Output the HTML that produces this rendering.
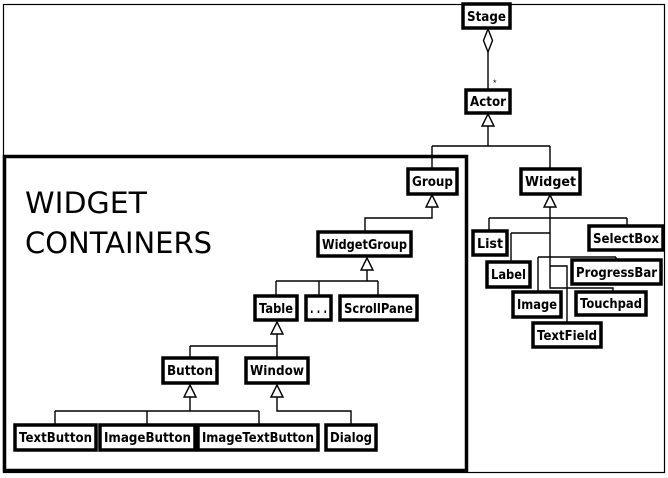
<!DOCTYPE html>
<html><head><meta charset="utf-8"><style>
html,body{margin:0;padding:0;background:#fff;}
svg{display:block;}
.b{fill:#fff;stroke:#000;stroke-width:3.5;}
.t{font-family:"DejaVu Sans","Liberation Sans",sans-serif;font-weight:bold;font-size:13px;fill:#000;}
.l{fill:none;stroke:#000;stroke-width:1.4;}
.tri{fill:#fff;stroke:#000;stroke-width:1.4;}
</style></head><body>
<svg width="668" height="478" viewBox="0 0 668 478" xmlns="http://www.w3.org/2000/svg">
<rect x="3.5" y="4.5" width="661" height="468" fill="#fff" stroke="#000" stroke-width="1.2"/>
<rect x="4.5" y="156.5" width="462" height="314" fill="none" stroke="#000" stroke-width="3.5"/>
<text x="25" y="213" font-family="DejaVu Sans,Liberation Sans,sans-serif" font-size="29" textLength="122" lengthAdjust="spacingAndGlyphs" fill="#000">WIDGET</text>
<text x="25" y="253" font-family="DejaVu Sans,Liberation Sans,sans-serif" font-size="29" textLength="187" lengthAdjust="spacingAndGlyphs" fill="#000">CONTAINERS</text>

<path class="l" d="M488 52 V90"/>
<polygon class="tri" points="488,29 492.5,40.5 488,52 483.5,40.5"/>
<text x="493" y="86" font-size="9" font-family="Liberation Sans,sans-serif">*</text>
<path class="l" d="M488 126 V146 M432 146 H550 M432 146 V169 M550 146 V169"/>
<polygon class="tri" points="488,114 494,126 482,126"/>
<path class="l" d="M550 207 V288 H613 V292 M489 218 H627 M489 218 V231 M627 218 V226 M511 233 H550 M511 233 V262 M538 257 H616 M538 257 V292 M616 257 V260 M550 266 H567 V323"/>
<polygon class="tri" points="550,195 556,207 544,207"/>
<path class="l" d="M432 207 V218 H365 V232"/>
<polygon class="tri" points="432,195 438,207 426,207"/>
<path class="l" d="M367 270 V281 M276 281 H378 M276 281 V296 M319 281 V296 M378 281 V296"/>
<polygon class="tri" points="367,258 373,270 361,270"/>
<path class="l" d="M277 334 V346 M190 346 H277 M190 346 V358 M277 346 V358"/>
<polygon class="tri" points="277,322 283,334 271,334"/>
<path class="l" d="M190 397 V411 M55 411 H259 M55 411 V425 M147 411 V425 M259 411 V425"/>
<polygon class="tri" points="190,385 196,397 184,397"/>
<path class="l" d="M277 397 V411 H351 V425"/>
<polygon class="tri" points="277,385 283,397 271,397"/>

<rect class="b" x="463" y="4" width="47" height="24"/><text class="t" x="467" y="21" textLength="39" lengthAdjust="spacingAndGlyphs">Stage</text>
<rect class="b" x="466" y="90" width="44" height="23"/><text class="t" x="470" y="106" textLength="36" lengthAdjust="spacingAndGlyphs">Actor</text>
<rect class="b" x="408" y="169" width="49" height="25"/><text class="t" x="412" y="186" textLength="41" lengthAdjust="spacingAndGlyphs">Group</text>
<rect class="b" x="521" y="169" width="59" height="25"/><text class="t" x="525" y="186" textLength="51" lengthAdjust="spacingAndGlyphs">Widget</text>
<rect class="b" x="318" y="232" width="93" height="24"/><text class="t" x="322" y="249" textLength="85" lengthAdjust="spacingAndGlyphs">WidgetGroup</text>
<rect class="b" x="255" y="296" width="42" height="24"/><text class="t" x="259" y="313" textLength="34" lengthAdjust="spacingAndGlyphs">Table</text>
<rect class="b" x="306" y="296" width="25" height="24"/><text class="t" x="310" y="313" textLength="17" lengthAdjust="spacingAndGlyphs">. . .</text>
<rect class="b" x="340" y="296" width="77" height="24"/><text class="t" x="344" y="313" textLength="69" lengthAdjust="spacingAndGlyphs">ScrollPane</text>
<rect class="b" x="163" y="358" width="54" height="25"/><text class="t" x="167" y="375" textLength="46" lengthAdjust="spacingAndGlyphs">Button</text>
<rect class="b" x="246" y="358" width="62" height="25"/><text class="t" x="250" y="375" textLength="54" lengthAdjust="spacingAndGlyphs">Window</text>
<rect class="b" x="15" y="425" width="81" height="25"/><text class="t" x="19" y="442" textLength="73" lengthAdjust="spacingAndGlyphs">TextButton</text>
<rect class="b" x="100" y="425" width="95" height="25"/><text class="t" x="104" y="442" textLength="87" lengthAdjust="spacingAndGlyphs">ImageButton</text>
<rect class="b" x="198" y="425" width="120" height="25"/><text class="t" x="202" y="442" textLength="112" lengthAdjust="spacingAndGlyphs">ImageTextButton</text>
<rect class="b" x="326" y="425" width="50" height="25"/><text class="t" x="330" y="442" textLength="42" lengthAdjust="spacingAndGlyphs">Dialog</text>
<rect class="b" x="473" y="231" width="34" height="24"/><text class="t" x="477" y="248" textLength="26" lengthAdjust="spacingAndGlyphs">List</text>
<rect class="b" x="589" y="226" width="74" height="24"/><text class="t" x="593" y="243" textLength="66" lengthAdjust="spacingAndGlyphs">SelectBox</text>
<rect class="b" x="487" y="262" width="43" height="25"/><text class="t" x="491" y="279" textLength="35" lengthAdjust="spacingAndGlyphs">Label</text>
<rect class="b" x="572" y="260" width="89" height="24"/><text class="t" x="576" y="277" textLength="81" lengthAdjust="spacingAndGlyphs">ProgressBar</text>
<rect class="b" x="513" y="292" width="48" height="25"/><text class="t" x="517" y="309" textLength="40" lengthAdjust="spacingAndGlyphs">Image</text>
<rect class="b" x="576" y="292" width="70" height="23"/><text class="t" x="580" y="308" textLength="62" lengthAdjust="spacingAndGlyphs">Touchpad</text>
<rect class="b" x="533" y="323" width="68" height="24"/><text class="t" x="537" y="340" textLength="60" lengthAdjust="spacingAndGlyphs">TextField</text>
</svg>
</body></html>
